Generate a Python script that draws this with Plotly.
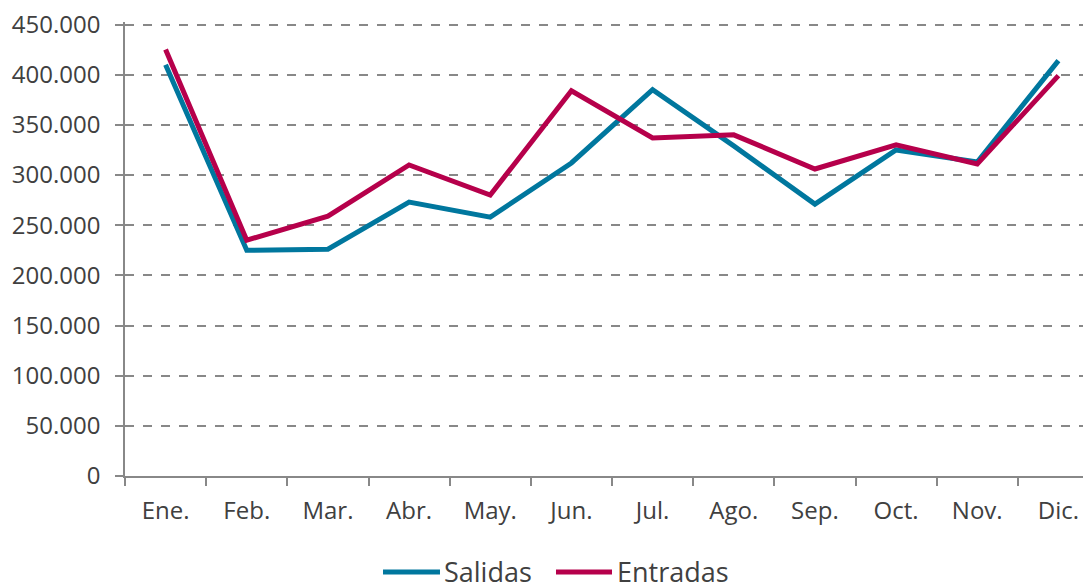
import plotly.graph_objects as go

months = ["Ene.", "Feb.", "Mar.", "Abr.", "May.", "Jun.", "Jul.", "Ago.", "Sep.", "Oct.", "Nov.", "Dic."]
salidas = [410000, 225000, 226000, 273000, 258000, 312000, 385000, 329000, 271000, 325000, 313000, 414000]
entradas = [425000, 235000, 259000, 310000, 280000, 384000, 337000, 340000, 306000, 330000, 311000, 399000]
y_ticks = [0, 50000, 100000, 150000, 200000, 250000, 300000, 350000, 400000, 450000]

FONT = "Open Sans"
C_SAL = "#00779E"
C_ENT = "#B6004B"

fig = go.Figure()
fig.add_trace(go.Scatter(x=months, y=salidas, name="Salidas", mode="lines",
                         line=dict(color=C_SAL, width=5)))
fig.add_trace(go.Scatter(x=months, y=entradas, name="Entradas", mode="lines",
                         line=dict(color=C_ENT, width=5)))

# plot area: range extended slightly above 450.000 so its grid line is drawn
PLOT_H = 454.5
LEG_Y = -96 / PLOT_H
legend_items = [("Salidas", C_SAL, 0.2649, 0.3234, 0.3265),
                ("Entradas", C_ENT, 0.4425, 0.5000, 0.5041)]
for name, col, x0, x1, xt in legend_items:
    fig.add_shape(type="line", xref="paper", yref="paper", x0=x0, x1=x1, y0=LEG_Y, y1=LEG_Y,
                  line=dict(color=col, width=5))
    fig.add_annotation(xref="paper", yref="paper", x=xt, y=LEG_Y, text=name, showarrow=False,
                       xanchor="left", yanchor="middle", font=dict(size=27, color="#404040"),
                       borderpad=0)

# the page body adds an 8px offset, so the figure is sized/margined to compensate
fig.update_layout(
    width=1091, height=575,
    margin=dict(l=117, r=0, t=13.5, b=107, autoexpand=False),
    plot_bgcolor="white", paper_bgcolor="white",
    separators=",.",
    showlegend=False,
    font=dict(family=FONT, size=24, color="#404040"),
    xaxis=dict(type="category", range=[-0.5, 11.5], tickson="boundaries",
               ticks="outside", ticklen=8, tickcolor="#888888", tickwidth=1.5,
               showline=True, linecolor="#888888", linewidth=1.5, automargin=False,
               showgrid=False, zeroline=False, ticklabelstandoff=12),
    yaxis=dict(range=[0, 452500], tickvals=y_ticks, tickformat=",d",
               ticks="outside", ticklen=8, tickcolor="#888888", tickwidth=1.5,
               showline=True, linecolor="#888888", linewidth=1.5, automargin=False,
               showgrid=True, gridcolor="#888888", griddash="dash", gridwidth=1.5,
               zeroline=False, ticklabelstandoff=10, ticklabeloverflow="allow"),
)
fig.write_html("out.html")
